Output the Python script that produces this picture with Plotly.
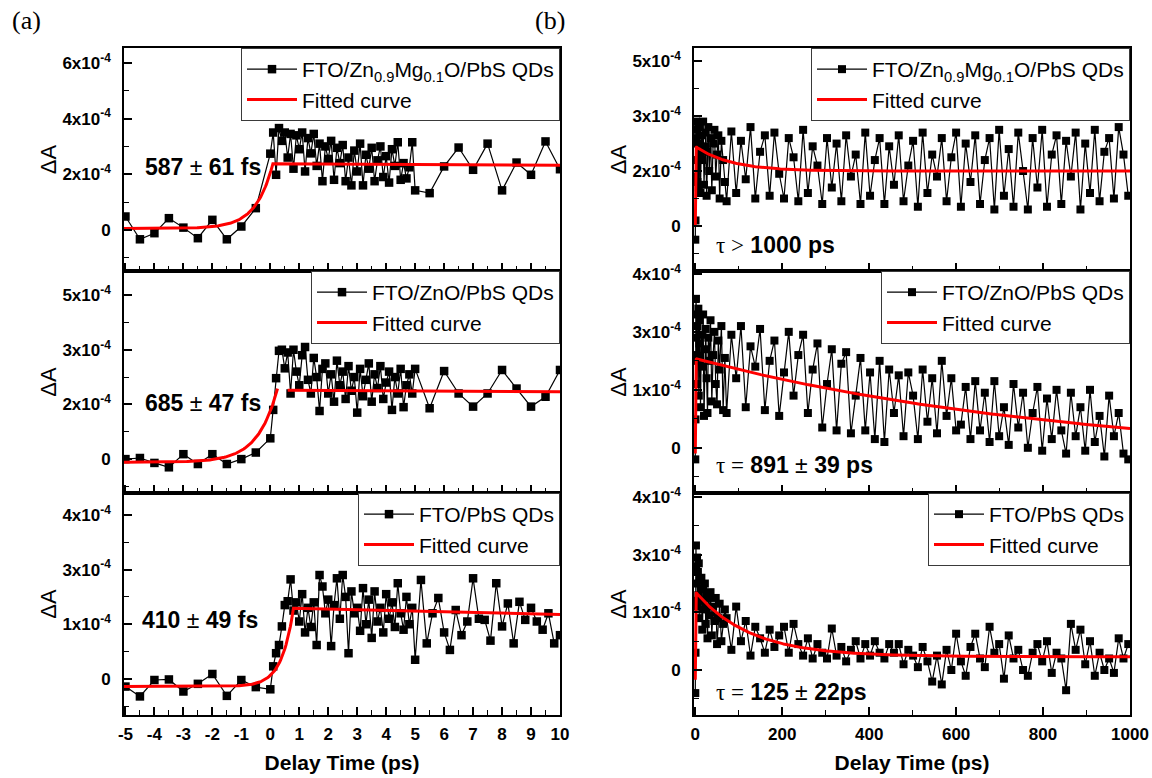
import numpy as np
import plotly.graph_objects as go

# ---------------------------------------------------------------------------
# Delay-time grids (ps)
# ---------------------------------------------------------------------------
delay_short = [
    -5, -4.5, -4, -3.5, -3, -2.5, -2, -1.5, -1, -0.5,
    0.0, 0.1, 0.2, 0.3, 0.4, 0.5, 0.6, 0.7, 0.8, 0.9,
    1.0, 1.1, 1.2, 1.3, 1.4, 1.5, 1.6, 1.7, 1.8, 1.9,
    2.0, 2.1, 2.2, 2.3, 2.4, 2.5, 2.6, 2.7, 2.8, 2.9,
    3.0, 3.1, 3.2, 3.3, 3.4, 3.5, 3.6, 3.7, 3.8, 3.9,
    4.0, 4.1, 4.2, 4.3, 4.4, 4.5, 4.6, 4.7, 4.8, 4.9, 5.0,
    5.5, 6.0, 6.5, 7.0, 7.5, 8.0, 8.5, 9.0, 9.5, 10.0,
]
delay_short_fine = [
    -5, -4.5, -4, -3.5, -3, -2.5, -2, -1.5, -1, -0.5,
    0.0, 0.1, 0.2, 0.3, 0.4, 0.5, 0.6, 0.7, 0.8, 0.9,
    1.0, 1.1, 1.2, 1.3, 1.4, 1.5, 1.6, 1.7, 1.8, 1.9,
    2.0, 2.1, 2.2, 2.3, 2.4, 2.5, 2.6, 2.7, 2.8, 2.9,
    3.0, 3.1, 3.2, 3.3, 3.4, 3.5, 3.6, 3.7, 3.8, 3.9,
    4.0, 4.1, 4.2, 4.3, 4.4, 4.5, 4.6, 4.7, 4.8, 4.9, 5.0,
    5.2, 5.4, 5.6, 5.8, 6.0, 6.2, 6.4, 6.6, 6.8, 7.0,
    7.2, 7.4, 7.6, 7.8, 8.0, 8.2, 8.4, 8.6, 8.8, 9.0,
    9.2, 9.4, 9.6, 9.8, 10.0,
]
delay_long = [
    0, 0.5, 1, 1.5, 2, 3, 4, 5, 6, 7, 8, 9, 10, 12, 14, 16, 18, 20, 22, 24,
    26, 28, 30, 32, 35, 38, 41, 44, 47, 50, 53, 56, 60, 64, 68,
    72, 83, 94, 105, 116, 127, 138, 149, 160, 171, 182, 193, 204, 215, 226,
    237, 248, 259, 270, 281, 292, 303, 314, 325, 336, 347, 358, 369, 380, 391,
    402, 413, 424, 435, 446, 457, 468, 479, 490, 501, 512, 523, 534, 545, 556,
    567, 578, 589, 600, 611, 622, 633, 644, 655, 666, 677, 688, 699, 710, 721,
    732, 743, 754, 765, 776, 787, 798, 809, 820, 831, 842, 853, 864, 875, 886,
    897, 908, 919, 930, 941, 952, 963, 974, 985, 996,
]

# ---------------------------------------------------------------------------
# Transient absorption signals (axis units of the respective panel)
# ---------------------------------------------------------------------------
dA_znmgo_short = [
    0.48, -0.34, -0.12, 0.42, 0.08, -0.30, 0.36, -0.34, 0.12, 0.78,
    2.74, 3.50, 1.98, 3.66, 3.20, 3.50, 2.60, 3.45, 2.20, 3.40,
    2.90, 3.50, 2.10, 3.30, 2.75, 3.45, 2.30, 3.10, 1.75, 3.00,
    2.55, 3.20, 1.80, 2.95, 2.40, 3.05, 1.75, 2.60, 1.60, 2.85,
    2.10, 3.10, 1.60, 2.70, 2.20, 2.95, 1.75, 2.50, 3.00, 1.90,
    2.65, 1.70, 2.90, 2.30, 3.15, 1.80, 2.40, 1.85, 2.25, 3.15, 1.42,
    1.32, 2.28, 2.96, 2.16, 3.10, 1.42, 2.42, 1.98, 3.18, 2.18,
]
dA_zno_short = [
    0.00, 0.02, -0.07, -0.15, 0.09, -0.09, 0.09, -0.09, 0.00, 0.12,
    0.38, 0.90, 1.48, 1.98, 2.00, 1.66, 1.95, 1.20, 2.00, 1.60,
    1.35, 1.90, 2.05, 1.45, 1.20, 1.85, 1.50, 0.88, 1.65, 1.75,
    1.20, 1.55, 1.05, 1.80, 1.35, 1.60, 1.10, 1.70, 1.25, 1.50,
    0.85, 1.65, 1.15, 1.45, 1.75, 1.05, 1.55, 1.30, 1.70, 1.10,
    1.40, 1.60, 0.90, 1.50, 1.20, 1.65, 0.95, 1.35, 1.55, 1.20, 1.65,
    0.93, 1.61, 1.20, 0.96, 1.20, 1.63, 1.29, 0.96, 1.14, 1.63,
]
dA_pbs_short = [
    -0.14, -0.32, -0.02, -0.01, -0.23, -0.09, 0.09, -0.31, -0.02, -0.15,
    -0.19, 0.23, 0.47, 0.62, 0.96, 1.35, 1.42, 1.82, 1.25, 1.40,
    1.05, 1.55, 0.85, 1.30, 0.95, 1.40, 0.62, 1.90, 1.69, 1.20,
    1.45, 0.60, 1.35, 1.84, 1.10, 1.90, 1.50, 0.47, 1.60, 1.20,
    1.30, 0.88, 1.66, 1.00, 1.45, 0.75, 1.60, 1.05, 1.30, 0.85,
    1.55, 1.10, 1.40, 0.95, 1.75, 1.20, 0.90, 1.50, 1.00, 1.30, 0.35,
    1.81, 0.65, 1.20, 1.48, 0.85, 0.53, 1.26, 0.80, 1.05, 1.84,
    1.10, 1.08, 0.70, 1.75, 0.96, 1.38, 0.65, 1.41, 1.08, 1.30,
    1.05, 0.90, 1.20, 0.65, 0.80,
]
dA_znmgo_long = [
    -0.25, 0.10, 0.90, 1.60, 1.90, 1.20, 1.75, 0.80, 1.50, 1.85,
    0.70, 1.30, 1.80, 0.60, 1.65, 1.20, 1.90, 0.75, 1.45, 1.70,
    0.55, 1.35, 1.80, 1.00, 1.60, 0.65, 1.50, 1.75, 0.90, 1.30,
    1.65, 0.50, 1.55, 1.20, 0.80,
    0.45, 1.72, 0.60, 1.55, 0.85, 1.80, 0.50, 1.35, 1.65, 0.55,
    1.70, 0.95, 0.50, 1.60, 1.25, 0.45, 1.75, 0.60, 1.45, 1.10,
    0.40, 1.60, 0.70, 1.50, 0.45, 1.65, 0.90, 1.30, 0.40, 1.70,
    0.55, 1.20, 1.60, 0.40, 1.45, 0.75, 1.65, 0.45, 1.10, 1.55,
    0.35, 1.70, 0.60, 1.30, 0.90, 1.60, 0.45, 1.25, 1.70, 0.35,
    1.50, 0.80, 1.65, 0.40, 1.20, 1.60, 0.30, 1.75, 0.55, 1.40,
    0.35, 1.70, 1.00, 0.30, 1.60, 0.70, 1.75, 0.35, 1.30, 1.65,
    0.40, 1.55, 0.90, 1.70, 0.30, 1.50, 0.60, 1.75, 0.45, 1.35,
    1.60, 0.50, 1.80, 1.30, 0.55,
]
dA_zno_long = [
    -0.20, 0.49, 1.60, 2.57, 1.90, 2.30, 1.10, 2.10, 1.50, 2.40,
    0.90, 1.80, 2.20, 0.70, 1.95, 1.40, 2.30, 0.55, 1.70, 2.05,
    1.20, 0.60, 1.90, 1.50, 2.20, 0.80, 1.60, 2.00, 1.10, 0.75,
    1.85, 1.35, 2.10, 0.65, 1.55,
    0.60, 1.95, 1.20, 2.10, 0.70, 1.75, 1.40, 2.05, 0.65, 1.50, 1.85,
    0.55, 1.30, 2.00, 0.90, 1.60, 1.95, 0.60, 1.35, 1.80, 0.35, 1.10,
    1.70, 0.30, 1.45, 1.65, 0.25, 0.90, 1.55, 0.30, 1.30, 0.15, 1.50,
    0.10, 1.35, 0.60, 1.25, 0.20, 1.30, 0.90, 0.15, 1.35, 0.45, 1.20,
    0.25, 1.50, 0.55, 1.20, 0.30, 0.40, 1.05, 0.15, 1.15, 0.30, 0.95,
    0.10, 1.15, 0.20, 0.70, 0.05, 1.10, 0.35, 0.95, 0.00, 0.60, 1.05,
    -0.05, 0.85, 0.15, 1.00, 0.30, -0.10, 0.95, 0.20, 0.70, -0.05, 1.00,
    0.10, 0.55, -0.15, 0.90, 0.20, 0.60, -0.10, -0.20,
]
dA_pbs_long = [
    -0.40, 0.30, 1.20, 2.16, 1.80, 1.50, 1.95, 1.10, 1.70, 1.30,
    1.85, 0.90, 1.55, 1.20, 1.60, 0.70, 1.40, 1.05, 1.50, 0.80,
    1.30, 0.55, 1.25, 0.95, 1.35, 0.60, 1.10, 0.85, 1.25, 0.45,
    0.90, 1.15, 0.50, 0.80, 1.05,
    0.90, 0.35, 1.10, 0.50, 0.85, 0.25, 0.75, 0.55, 0.30, 0.70, 0.40,
    0.60, 0.75, 0.30, 0.80, 0.45, 0.25, 0.55, 0.20, 0.45, 0.30, 0.20,
    0.72, 0.25, 0.40, 0.15, 0.35, 0.50, 0.20, 0.45, 0.25, 0.50, 0.30,
    0.20, 0.45, 0.30, 0.45, 0.10, 0.35, 0.25, 0.05, 0.40, 0.15, -0.20,
    0.25, -0.25, 0.35, 0.00, 0.63, 0.15, -0.10, 0.40, 0.63, 0.20, 0.05,
    0.75, 0.30, 0.45, -0.15, 0.60, 0.20, 0.35, 0.00, -0.10, 0.30, 0.45,
    0.15, 0.50, -0.05, 0.30, 0.20, -0.35, 0.80, 0.35, 0.70, 0.10, 0.50,
    -0.10, 0.30, 0.00, 0.20, -0.05, 0.55, 0.20, 0.45,
]

# Fitted time constants (fs for the rise, ps for the decay)
rise_tau_fs = [587, 685, 410]
rise_err_fs = [61, 47, 49]
decay_tau_ps = [None, 891, 125]
decay_err_ps = [None, 39, 22]

# Legend / sample names
sample_names = [
    "FTO/Zn<sub>0.9</sub>Mg<sub>0.1</sub>O/PbS QDs",
    "FTO/ZnO/PbS QDs",
    "FTO/PbS QDs",
]

# Tick labels
ytick_text_lt = ["0", "2x10<sup>-4</sup>", "4x10<sup>-4</sup>", "6x10<sup>-4</sup>"]
ytick_text_5320 = ["0", "2x10<sup>-4</sup>", "3x10<sup>-4</sup>", "5x10<sup>-4</sup>"]
ytick_text_4310 = ["0", "1x10<sup>-4</sup>", "3x10<sup>-4</sup>", "4x10<sup>-4</sup>"]
xtick_short = list(range(-5, 11))
xtick_long = [0, 200, 400, 600, 800, 1000]

# ---------------------------------------------------------------------------
# Fitted curves
# ---------------------------------------------------------------------------
def rise_curve(base, top, t_end, tau_ps):
    t = np.linspace(-5.05, t_end, 160)
    return t, base + (top - base) * np.exp((t - t_end) / tau_ps)


def decay_curve(y_start, offset, amp, tau_ps, tau_rise=0.4):
    t = np.concatenate([np.linspace(0, 3, 31), np.linspace(3.2, 1000, 400)])
    y = y_start + (1 - np.exp(-t / tau_rise)) * (offset + amp * np.exp(-t / tau_ps) - y_start)
    return t, y


def join(*segments):
    xs, ys = [], []
    for i, (sx, sy) in enumerate(segments):
        if i:
            xs.append(None)
            ys.append(None)
        xs.extend(list(sx))
        ys.extend(list(sy))
    return xs, ys


t_r, y_r = rise_curve(0.05, 2.38, 0.09, rise_tau_fs[0] / 1000)
fit_a1 = join((list(t_r) + [10.0], list(y_r) + [2.32]))
t_r, y_r = rise_curve(-0.06, 1.29, 0.25, rise_tau_fs[1] / 1000)
fit_a2 = join((t_r, y_r), ([0.6, 10.0], [1.26, 1.23]))
t_r, y_r = rise_curve(-0.14, 1.29, 0.80, rise_tau_fs[2] / 1000)
fit_a3 = join((list(t_r) + [10.0], list(y_r) + [1.18]))

fit_b1 = join(decay_curve(0.0, 1.0, 0.45, 80.0))
fit_b2 = join(decay_curve(-0.10, -0.25, 1.79, float(decay_tau_ps[1])))
fit_b3 = join(decay_curve(-0.17, 0.23, 1.13, float(decay_tau_ps[2])))

# ---------------------------------------------------------------------------
# Layout geometry
# ---------------------------------------------------------------------------
W, H = 1152, 778
FONT = "Liberation Sans"
SERIF = "Liberation Serif"


def fx(px):
    return px / W


def fy(py):
    return 1 - py / H


col_x = [(124, 560), (694, 1130)]
row_y = [(48, 271), (271, 493), (493, 715)]

panels = [
    dict(col=0, row=0, x=delay_short, y=dA_znmgo_short, fit=fit_a1, name=sample_names[0],
         yrange=[-1.48, 6.54], yticks=[0, 2, 4, 6], ytext=ytick_text_lt, yminor=[-1, 1, 3, 5]),
    dict(col=0, row=1, x=delay_short, y=dA_zno_short, fit=fit_a2, name=sample_names[1],
         yrange=[-0.62, 3.44], yticks=[0, 1, 2, 3], ytext=ytick_text_5320, yminor=[-0.5, 0.5, 1.5, 2.5]),
    dict(col=0, row=2, x=delay_short_fine, y=dA_pbs_short, fit=fit_a3, name=sample_names[2],
         yrange=[-0.66, 3.40], yticks=[0, 1, 2, 3], ytext=ytick_text_4310, yminor=[-0.5, 0.5, 1.5, 2.5]),
    dict(col=1, row=0, x=delay_long, y=dA_znmgo_long, fit=fit_b1, name=sample_names[0],
         yrange=[-0.82, 3.24], yticks=[0, 1, 2, 3], ytext=ytick_text_5320, yminor=[-0.5, 0.5, 1.5, 2.5]),
    dict(col=1, row=1, x=delay_long, y=dA_zno_long, fit=fit_b2, name=sample_names[1],
         yrange=[-0.78, 3.05], yticks=[0, 1, 2, 3], ytext=ytick_text_4310, yminor=[-0.5, 0.5, 1.5, 2.5]),
    dict(col=1, row=2, x=delay_long, y=dA_pbs_long, fit=fit_b3, name=sample_names[2],
         yrange=[-0.78, 3.07], yticks=[0, 1, 2, 3], ytext=ytick_text_4310, yminor=[-0.5, 0.5, 1.5, 2.5]),
]

fig = go.Figure()
layout = dict(
    width=W, height=H, autosize=False,
    margin=dict(l=0, r=0, t=0, b=0, pad=0, autoexpand=False),
    paper_bgcolor="white", plot_bgcolor="white",
    font=dict(family=FONT, color="black"),
    showlegend=True,
)

axis_common = dict(
    showline=True, linecolor="black", linewidth=1.6, mirror=True,
    ticks="inside", ticklen=8, tickwidth=1.6, tickcolor="black",
    showgrid=False, zeroline=False, automargin=False,
    tickfont=dict(family=FONT, size=17, color="black", weight="bold"),
)

for i, p in enumerate(panels, start=1):
    sfx = "" if i == 1 else str(i)
    lg = "legend" if i == 1 else f"legend{i}"
    xa, ya = f"x{sfx}", f"y{sfx}"
    msize = 8.5 if p["col"] == 0 else 8

    fig.add_trace(go.Scatter(
        x=p["x"], y=p["y"], mode="lines+markers", name=p["name"],
        xaxis=xa, yaxis=ya, legend=lg,
        line=dict(color="black", width=1.2),
        marker=dict(symbol="square", size=msize, color="black"),
    ))
    fig.add_trace(go.Scatter(
        x=p["fit"][0], y=p["fit"][1], mode="lines", name="Fitted curve",
        xaxis=xa, yaxis=ya, legend=lg, connectgaps=False,
        line=dict(color="#ff0000", width=3),
    ))

    x0, x1 = col_x[p["col"]]
    y0, y1 = row_y[p["row"]]
    bottom = p["row"] == 2
    if p["col"] == 0:
        xr = [-5.05, 10.0]
        xt = dict(tickmode="array", tickvals=xtick_short, ticktext=[str(v) for v in xtick_short],
                  minor=dict(ticks="inside", ticklen=5, tickwidth=1.4, tickcolor="black", dtick=0.5, tick0=-5))
    else:
        xr = [-3, 1000]
        xt = dict(tickmode="array", tickvals=xtick_long, ticktext=[str(v) for v in xtick_long],
                  minor=dict(ticks="inside", ticklen=5, tickwidth=1.4, tickcolor="black", dtick=100, tick0=0))

    layout[f"xaxis{sfx}"] = dict(
        axis_common, domain=[fx(x0), fx(x1)], anchor=ya, range=xr,
        showticklabels=bottom, ticklabelstandoff=3, **xt,
        title=dict(text="Delay Time (ps)" if bottom else "",
                   font=dict(family=FONT, size=21, weight="bold"), standoff=12),
    )
    layout[f"yaxis{sfx}"] = dict(
        axis_common, domain=[fy(y1), fy(y0)], anchor=xa, range=p["yrange"],
        tickmode="array", tickvals=p["yticks"], ticktext=p["ytext"], ticklabelstandoff=8,
        minor=dict(ticks="inside", ticklen=5, tickwidth=1.4, tickcolor="black",
                   tickmode="array", tickvals=p["yminor"]),
        title=dict(text="ΔA", font=dict(family=FONT, size=22), standoff=0),
    )
    layout[lg] = dict(
        x=fx(x1), y=fy(y0), xanchor="right", yanchor="top",
        bgcolor="white", bordercolor="#3a3a3a", borderwidth=1,
        font=dict(family=FONT, size=21, color="black"),
        itemwidth=50, tracegroupgap=0,
    )

fig.update_layout(**layout)

# Fitted time constants
tau_style = f'<span style="font-family:{SERIF}">'
notes = [
    (143, 167, f"<b>{rise_tau_fs[0]}</b> ± <b>{rise_err_fs[0]} fs</b>"),
    (143, 403, f"<b>{rise_tau_fs[1]}</b> ± <b>{rise_err_fs[1]} fs</b>"),
    (140, 620, f"<b>{rise_tau_fs[2]}</b> ± <b>{rise_err_fs[2]} fs</b>"),
    (714, 245, f"{tau_style}τ &gt;</span> <b>1000 ps</b>"),
    (714, 465, f"{tau_style}τ =</span> <b>{decay_tau_ps[1]}</b> ± <b>{decay_err_ps[1]} ps</b>"),
    (714, 692, f"{tau_style}τ =</span> <b>{decay_tau_ps[2]}</b> ± <b>{decay_err_ps[2]}ps</b>"),
]
for px, py, txt in notes:
    fig.add_annotation(x=fx(px), y=fy(py), xref="paper", yref="paper", text=txt,
                       showarrow=False, xanchor="left", yanchor="middle",
                       font=dict(family=FONT, size=23, color="black"))

# Panel letters
for px, txt in [(26, "(a)"), (550, "(b)")]:
    fig.add_annotation(x=fx(px), y=fy(21), xref="paper", yref="paper", text=txt,
                       showarrow=False, xanchor="center", yanchor="middle",
                       font=dict(family=SERIF, size=26, color="black"))

fig.write_html("out.html")
